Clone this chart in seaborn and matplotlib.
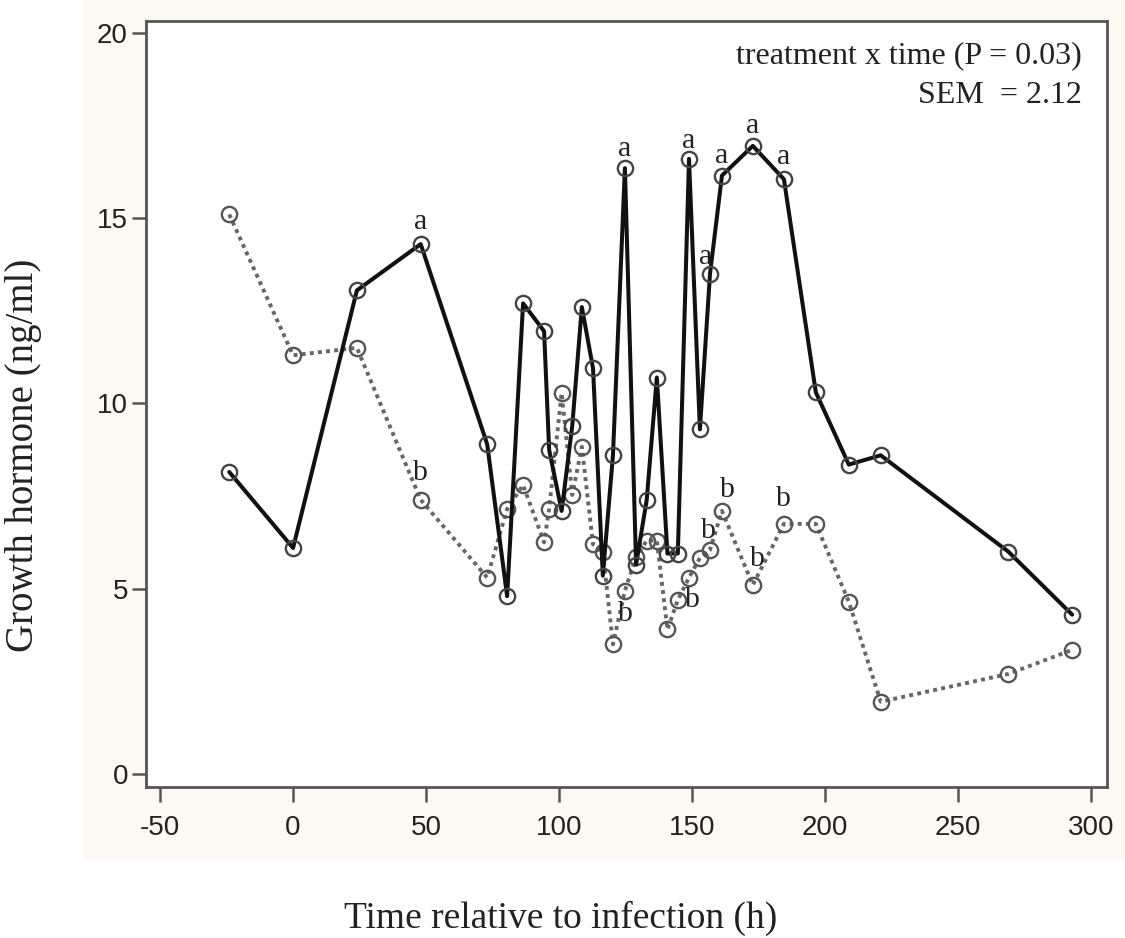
import matplotlib
matplotlib.use("Agg")
import matplotlib.pyplot as plt
import seaborn as sns
import pandas as pd
from matplotlib.patches import Rectangle

sns.set_style("ticks")
plt.rcParams['font.family'] = ['Liberation Serif', 'DejaVu Serif']
plt.rcParams['axes.unicode_minus'] = False

# Sampling times (h relative to infection)
times = [-24, 0, 24, 48, 73, 80.5, 86.5, 94.4, 96.3, 101, 105, 108.6, 112.8, 116.5,
         120.3, 124.8, 129, 133, 136.8, 140.8, 144.7, 148.9, 153, 156.8, 161.3,
         172.9, 184.6, 196.6, 209, 221, 269, 293]

# Growth hormone (ng/ml), solid line group
gh_solid = [8.15, 6.1, 13.05, 14.3, 8.9, 4.8, 12.7, 11.95, 8.75, 7.1, 9.4, 12.6, 10.95, 5.35,
            8.6, 16.35, 5.65, 7.4, 10.7, 5.95, 5.95, 16.6, 9.3, 13.5, 16.15,
            16.95, 16.05, 10.3, 8.35, 8.6, 6.0, 4.3]

# Growth hormone (ng/ml), dotted line group
gh_dotted = [15.1, 11.3, 11.5, 7.4, 5.3, 7.15, 7.8, 6.25, 7.15, 10.28, 7.53, 8.83, 6.2, 6.0,
             3.5, 4.95, 5.85, 6.3, 6.3, 3.9, 4.7, 5.3, 5.83, 6.05, 7.1,
             5.1, 6.75, 6.75, 4.65, 1.95, 2.7, 3.35]

# times carrying significance letters
a_times = [48, 124.8, 148.9, 156.8, 161.3, 172.9, 184.6]
b_times = [48, 120.3, 144.7, 156.8, 161.3, 172.9, 184.6]

# letter offsets from the point, in pixels (dx right, dy down)
a_offsets = [(0, -22), (0, -19), (0, -18), (-4, -17), (0, -20), (0, -20), (0, -22)]
b_offsets = [(0, -27), (12, -30), (15, 0), (-2, -19), (5, -21), (5, -26), (0, -25)]

n = len(times)
df = pd.DataFrame({
    "time": times * 2,
    "gh": gh_solid + gh_dotted,
    "group": ["solid"] * n + ["dotted"] * n,
})

fig = plt.figure(figsize=(11.25, 9.38), dpi=100)
fig.patches.append(Rectangle((83 / 1125, 1 - 858 / 938), 1 - 83 / 1125, 858 / 938,
                             transform=fig.transFigure, color="#fcf8f2", zorder=-5))
ax = fig.add_axes([0.1298, 0.1610, 0.8542, 0.8166])
ax.set_facecolor("white")

# dotted group first so the solid line sits on top
sns.lineplot(data=df[df.group == "dotted"], x="time", y="gh", ax=ax, color="#666666",
             linestyle=(0, (1, 1.1)), linewidth=2.8, marker="o", markersize=11,
             markerfacecolor="none", markeredgecolor="#555555", markeredgewidth=1.7)
sns.lineplot(data=df[df.group == "solid"], x="time", y="gh", ax=ax, color="#111111",
             linewidth=2.9, marker="o", markersize=11,
             markerfacecolor="none", markeredgecolor="#444444", markeredgewidth=1.7)

for t, (dx, dy) in zip(a_times, a_offsets):
    y = gh_solid[times.index(t)]
    ax.annotate("a", xy=(t, y), xytext=(dx * 0.72, -dy * 0.72), textcoords="offset points",
                ha="center", va="center", fontsize=21.5, color="#222222")
for t, (dx, dy) in zip(b_times, b_offsets):
    y = gh_dotted[times.index(t)]
    ax.annotate("b", xy=(t, y), xytext=(dx * 0.72, -dy * 0.72), textcoords="offset points",
                ha="center", va="center", fontsize=21.5, color="#222222")

ax.text(0.974, 0.9545, "treatment x time (P = 0.03)", transform=ax.transAxes,
        ha="right", va="center", fontsize=23, color="#222222")
ax.text(0.974, 0.903, "SEM  = 2.12", transform=ax.transAxes,
        ha="right", va="center", fontsize=23, color="#222222")

ax.set_xlim(-55.3, 306.1)
ax.set_ylim(-0.35, 20.32)
ax.set_xticks([-50, 0, 50, 100, 150, 200, 250, 300])
ax.set_yticks([0, 5, 10, 15, 20])

for side in ["left", "bottom", "top", "right"]:
    ax.spines[side].set_color("#555555")
    ax.spines[side].set_linewidth(2.0)

tick_font = ["Liberation Sans Narrow", "Liberation Sans"]
ax.tick_params(axis="x", length=11, width=1.8, color="#555555", pad=9,
               labelsize=20, labelcolor="#222222", labelfontfamily=tick_font)
ax.tick_params(axis="y", length=10, width=1.8, color="#555555", pad=3,
               labelsize=20, labelcolor="#222222", labelfontfamily=tick_font)

ax.set_xlabel("Time relative to infection (h)", fontsize=27, color="#222222")
ax.set_ylabel("Growth hormone (ng/ml)", fontsize=28, color="#222222")
ax.xaxis.set_label_coords(0.431, -0.149)
ax.yaxis.set_label_coords(-0.108, 0.433)

fig.savefig("out.png", dpi=100)
